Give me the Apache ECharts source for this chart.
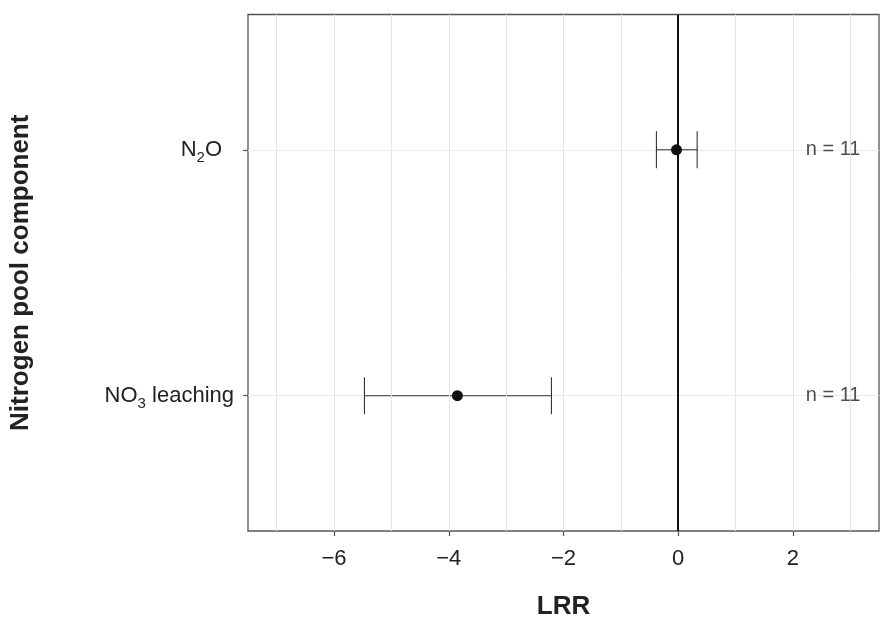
<!DOCTYPE html>
<html>
<head>
<meta charset="utf-8">
<script src="https://cdn.jsdelivr.net/npm/echarts@6/dist/echarts.min.js"></script>
<style>
html,body{margin:0;padding:0;background:#fff;}
#chart{width:895px;height:637px;}
</style>
</head>
<body>
<div id="chart"></div>
<script>
// Data
var categories = ['N2O', 'NO3 leaching'];
var categoryPos = [1, 2];
var estimate = [-0.03, -3.85];
var lowerCI = [-0.38, -5.47];
var upperCI = [0.33, -2.21];
var nLabels = ['n = 11', 'n = 11'];
var nLabelX = [2.7, 2.7];
var xTicks = [-6, -4, -2, 0, 2];
var xMinorBreaks = [-7, -5, -3, -1, 1, 3];
var refLine = [0];

var FONT = '"Liberation Sans", Arial, sans-serif';
var TEXT = '#222222';

var chart = echarts.init(document.getElementById('chart'), null, {renderer: 'canvas'});

var gridLines = xTicks.concat(xMinorBreaks).map(function (v) {
  return {xAxis: v};
});

var option = {
  animation: false,
  backgroundColor: '#ffffff',
  textStyle: {fontFamily: FONT},
  grid: {
    left: 246.5, right: 16, top: 14.5, bottom: 106,
    show: true, borderColor: '#555555', borderWidth: 1.3, backgroundColor: '#ffffff',
    containLabel: false
  },
  xAxis: {
    type: 'value',
    min: -7.5, max: 3.5,
    position: 'bottom',
    name: 'LRR',
    nameLocation: 'middle',
    nameGap: 63,
    nameTextStyle: {fontFamily: FONT, fontSize: 26, fontWeight: 'bold', color: TEXT},
    axisLine: {show: false, onZero: false},
    axisTick: {show: true, customValues: xTicks, length: 5, lineStyle: {color: '#555555', width: 1.2}},
    axisLabel: {customValues: xTicks, margin: 17, fontFamily: FONT, fontSize: 22, color: TEXT,
      formatter: function (v) { return v < 0 ? '\u2212' + Math.abs(v) : String(v); }},
    splitLine: {show: false}
  },
  yAxis: {
    type: 'value',
    inverse: true,
    min: 0.45, max: 2.55,
    position: 'left',
    name: 'Nitrogen pool component',
    nameLocation: 'middle',
    nameGap: 214,
    nameRotate: 90,
    nameTextStyle: {fontFamily: FONT, fontSize: 26, fontWeight: 'bold', color: TEXT},
    axisLine: {show: false, onZero: false},
    axisTick: {show: true, customValues: categoryPos, length: 5, lineStyle: {color: '#555555', width: 1.2}},
    axisLabel: {
      customValues: categoryPos,
      margin: 14,
      fontFamily: FONT, fontSize: 22, color: TEXT,
      formatter: function (v) {
        var i = categoryPos.indexOf(v);
        var c = categories[i];
        if (c === 'N2O') return '{n|N}{s|2}{n|O}{pad|}';
        if (c === 'NO3 leaching') return '{n|NO}{s|3}{n| leaching}';
        return c;
      },
      rich: {
        n: {fontFamily: FONT, fontSize: 22, color: TEXT},
        s: {fontFamily: FONT, fontSize: 15, color: TEXT, padding: [17, 0, 0, 0]},
        pad: {width: 12}
      }
    },
    splitLine: {show: true, lineStyle: {color: '#ebebeb', width: 1}}
  },
  series: [
    {
      type: 'scatter',
      data: [],
      silent: true,
      markLine: {
        silent: true, symbol: ['none', 'none'], label: {show: false},
        emphasis: {disabled: true},
        lineStyle: {color: '#e6e6e6', width: 1, type: 'solid'},
        data: gridLines
      },
      z: 1
    },
    {
      type: 'scatter',
      data: [],
      silent: true,
      markLine: {
        silent: true, symbol: ['none', 'none'], label: {show: false},
        emphasis: {disabled: true},
        lineStyle: {color: '#111111', width: 2, type: 'solid'},
        data: refLine.map(function (v) { return {xAxis: v}; })
      },
      z: 3
    },
    {
      type: 'custom',
      z: 4,
      silent: true,
      data: categoryPos.map(function (p, i) { return [lowerCI[i], upperCI[i], p]; }),
      renderItem: function (params, api) {
        var lo = api.coord([api.value(0), api.value(2)]);
        var hi = api.coord([api.value(1), api.value(2)]);
        var capTop = api.coord([api.value(0), api.value(2) - 0.075]);
        var capBot = api.coord([api.value(0), api.value(2) + 0.075]);
        var h = Math.abs(capBot[1] - capTop[1]) / 2;
        var style = {stroke: '#333333', lineWidth: 1.1, fill: null};
        return {
          type: 'group',
          children: [
            {type: 'line', shape: {x1: lo[0], y1: lo[1], x2: hi[0], y2: hi[1]}, style: style},
            {type: 'line', shape: {x1: lo[0], y1: lo[1] - h, x2: lo[0], y2: lo[1] + h}, style: style},
            {type: 'line', shape: {x1: hi[0], y1: hi[1] - h, x2: hi[0], y2: hi[1] + h}, style: style}
          ]
        };
      }
    },
    {
      type: 'scatter',
      z: 5,
      silent: true,
      symbol: 'circle',
      symbolSize: 11,
      itemStyle: {color: '#111111', opacity: 1},
      data: categoryPos.map(function (p, i) { return [estimate[i], p]; })
    },
    {
      type: 'scatter',
      z: 5,
      symbolSize: 0,
      silent: true,
      data: categoryPos.map(function (p, i) { return {value: [nLabelX[i], p], label: {formatter: nLabels[i]}}; }),
      label: {show: true, position: 'inside', fontFamily: FONT, fontSize: 20, color: TEXT}
    }
  ]
};
chart.setOption(option);
</script>
</body>
</html>
